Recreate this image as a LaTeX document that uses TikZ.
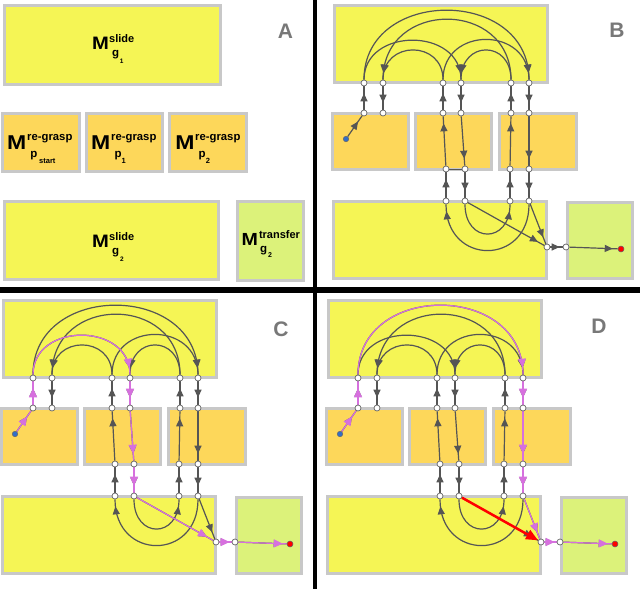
\documentclass[tikz,border=0pt]{standalone}
\usepackage{fontspec}
\setmainfont{Liberation Sans}
\usetikzlibrary{arrows.meta,decorations.markings}
\pgfdeclarelayer{fg}
\pgfsetlayers{main,fg}
\definecolor{yel}{RGB}{245,245,85}
\definecolor{org}{RGB}{253,215,90}
\definecolor{grn}{RGB}{220,242,122}
\definecolor{bord}{RGB}{200,200,200}
\definecolor{edc}{RGB}{85,85,85}
\definecolor{pnk}{RGB}{214,112,222}
\definecolor{lblgray}{RGB}{120,120,120}
\definecolor{bdot}{RGB}{50,110,200}
\tikzset{
  bx/.style={line width=3pt, draw=bord},
  st/.style={circle, draw=black!60, fill=white, line width=0.7pt, inner sep=0pt, minimum size=6pt},
  dotb/.style={circle, draw=black!60, fill=bdot, line width=0.5pt, inner sep=0pt, minimum size=5.5pt},
  dotr/.style={circle, draw=black!60, fill=red, line width=0.5pt, inner sep=0pt, minimum size=6pt},
  ge/.style={color=edc, line width=1.2pt},
  pe/.style={color=pnk, line width=1.2pt},
  ah/.style={postaction={decorate,decoration={markings,mark=at position -#1 with {\arrow{Triangle[length=8pt,width=7pt]}}}}},
  ah/.default=7pt,
  ahp/.style={postaction={decorate,decoration={markings,mark=at position -#1 with {\arrow{Triangle[length=9pt,width=8pt]}}}}},
  ahp/.default=7pt,
  lbl/.style={inner sep=0pt, anchor=base west},
  pl/.style={font=\fontsize{21}{21}\selectfont\bfseries, text=lblgray, inner sep=0pt},
}
\newcommand\pnl[3]{%
\begin{scope}[shift={(#2,#3)}]
\filldraw[bx, fill=yel] (3.5,300.5) rectangle (216.5,377.5);
\filldraw[bx, fill=org] (1.5,408.5) rectangle (77.5,464.5);
\filldraw[bx, fill=org] (84.5,408.5) rectangle (160.5,464.5);
\filldraw[bx, fill=org] (168.5,408.5) rectangle (245.5,464.5);
\filldraw[bx, fill=yel] (2.5,496.5) rectangle (215.5,573.5);
\filldraw[bx, fill=grn] (236.5,497.5) rectangle (301.5,573.5);
\begin{pgfonlayer}{fg}
\node[st] (#1T1) at (33,378) {};
\node[st] (#1T2) at (52,378) {};
\node[st] (#1T3) at (112,378) {};
\node[st] (#1T4) at (130,378) {};
\node[st] (#1T5) at (180,378) {};
\node[st] (#1T6) at (198,378) {};
\node[st] (#1S1) at (33,408) {};
\node[st] (#1S2) at (52,408) {};
\node[st] (#1S3) at (112,408) {};
\node[st] (#1S4) at (130,408) {};
\node[st] (#1S5) at (180,408) {};
\node[st] (#1S6) at (198,408) {};
\node[st] (#1U3) at (115,464) {};
\node[st] (#1U4) at (134,464) {};
\node[st] (#1U5) at (179,464) {};
\node[st] (#1U6) at (198,464) {};
\node[st] (#1V3) at (115,496) {};
\node[st] (#1V4) at (134,496) {};
\node[st] (#1V5) at (179,496) {};
\node[st] (#1V6) at (198,496) {};
\node[st] (#1F1) at (216,542) {};
\node[st] (#1F2) at (235,542) {};
\node[dotr] (#1R) at (290,544) {};
\node[dotb] (#1B) at (15,434) {};
\end{pgfonlayer}
\draw[ge,ah] (#1B) -- (#1S1);
\draw[ge,ah] (#1S1) -- (#1T1);
\draw[ge,ah] (#1T2) -- (#1S2);
\draw[ge,ah] (#1S3) -- (#1T3);
\draw[ge,ah] (#1T4) -- (#1S4);
\draw[ge,ah] (#1S5) -- (#1T5);
\draw[ge,ah] (#1T6) -- (#1S6);
\draw[ge,ah] (#1U3) -- (#1S3);
\draw[ge,ah] (#1S4) -- (#1U4);
\draw[ge,ah] (#1U5) -- (#1S5);
\draw[ge,ah] (#1S6) -- (#1U6);
\draw[ge,ah] (#1V3) -- (#1U3);
\draw[ge,ah] (#1U4) -- (#1V4);
\draw[ge,ah] (#1V5) -- (#1U5);
\draw[ge,ah] (#1U6) -- (#1V6);
\draw[ge,ah] (#1T1) .. controls +(0,-96) and +(0,-96) .. (#1T6);
\draw[ge,ah] (#1T5) .. controls +(0,-84) and +(0,-84) .. (#1T2);
\draw[ge,ah] (#1T1) .. controls +(0,-56) and +(0,-56) .. (#1T4);
\draw[ge,ah] (#1T3) .. controls +(0,-57) and +(0,-57) .. (#1T6);
\draw[ge,ah] (#1T3) .. controls +(0,-43) and +(0,-43) .. (#1T2);
\draw[ge,ah] (#1T5) .. controls +(0,-43) and +(0,-43) .. (#1T4);
\draw[ge,ah] (#1V4) .. controls +(0,43) and +(0,43) .. (#1V5);
\draw[ge,ah] (#1V6) .. controls +(0,65) and +(0,65) .. (#1V3);
\draw[ge,ah] (#1V4) -- (#1F1);
\draw[ge,ah] (#1V6) -- (#1F1);
\draw[ge,ah=3pt] (#1F1) -- (#1F2);
\draw[ge,ah=5pt] (#1F2) -- (#1R);
\end{scope}}
\begin{document}
\begin{tikzpicture}[x=1pt,y=-1pt]
\useasboundingbox (0,0) rectangle (640,589);
\fill[white] (0,0) rectangle (640,589);
% ---------- panel A ----------
\filldraw[bx, fill=yel] (4.5,5.5) rectangle (220.5,84.5);
\filldraw[bx, fill=org] (2.5,113.5) rectangle (79.5,171.5);
\filldraw[bx, fill=org] (86.5,113.5) rectangle (162.5,171.5);
\filldraw[bx, fill=org] (169.5,113.5) rectangle (246.5,171.5);
\filldraw[bx, fill=yel] (4.5,201.5) rectangle (218.5,279.5);
\filldraw[bx, fill=grn] (237.5,201.5) rectangle (303.5,280.5);
\begin{scope}[every node/.style={lbl}]
\node[font=\fontsize{18}{18}\selectfont\bfseries] (a1M) at (92,49.5) {\scalebox{1.12}[1]{M}};
\node[font=\fontsize{11}{11}\selectfont\bfseries] (a1S) at (109,42.5) {slide};
\node[font=\fontsize{11.5}{11}\selectfont\bfseries] (a1G) at (111.8,56.3) {g};
\node[font=\fontsize{6.5}{6}\selectfont\bfseries] (a1N) at (119.6,63) {1};
\node[font=\fontsize{18}{18}\selectfont\bfseries] (a2M) at (92,247.8) {\scalebox{1.12}[1]{M}};
\node[font=\fontsize{11}{11}\selectfont\bfseries] (a2S) at (109,240.8) {slide};
\node[font=\fontsize{11.5}{11}\selectfont\bfseries] (a2G) at (111.8,254.6) {g};
\node[font=\fontsize{6.5}{6}\selectfont\bfseries] (a2N) at (120,261.3) {2};
\node[font=\fontsize{20}{20}\selectfont\bfseries] (a3M) at (6.8,149.5) {\scalebox{1.15}[1]{M}};
\node[font=\fontsize{11.3}{11}\selectfont\bfseries] (a3S) at (27,140.5) {re-grasp};
\node[font=\fontsize{11.5}{11}\selectfont\bfseries] (a3G) at (30.3,157.8) {p};
\node[font=\fontsize{7.5}{7.5}\selectfont\bfseries] (a3N) at (39,163.3) {start};
\node[font=\fontsize{20}{20}\selectfont\bfseries] (a4M) at (90.8,149.5) {\scalebox{1.15}[1]{M}};
\node[font=\fontsize{11.3}{11}\selectfont\bfseries] (a4S) at (111,140.5) {re-grasp};
\node[font=\fontsize{11.5}{11}\selectfont\bfseries] (a4G) at (114.3,157.8) {p};
\node[font=\fontsize{7.5}{7.5}\selectfont\bfseries] (a4N) at (121.4,163) {1};
\node[font=\fontsize{20}{20}\selectfont\bfseries] (a5M) at (175.2,149.5) {\scalebox{1.15}[1]{M}};
\node[font=\fontsize{11.3}{11}\selectfont\bfseries] (a5S) at (195,140.5) {re-grasp};
\node[font=\fontsize{11.5}{11}\selectfont\bfseries] (a5G) at (198.3,157.8) {p};
\node[font=\fontsize{7.5}{7.5}\selectfont\bfseries] (a5N) at (205.6,163) {2};
\node[font=\fontsize{17.5}{17.5}\selectfont\bfseries] (a6M) at (241.3,245.7) {\scalebox{1.12}[1]{M}};
\node[font=\fontsize{11}{11}\selectfont\bfseries] (a6S) at (258.8,238.3) {transfer};
\node[font=\fontsize{11.5}{11}\selectfont\bfseries] (a6G) at (259.8,252.5) {g};
\node[font=\fontsize{7}{7}\selectfont\bfseries] (a6N) at (267.8,257.8) {2};
\end{scope}
% ---------- panels B, C, D ----------
\pnl{b}{331}{-295}
\draw[ge, line width=0.8pt] (bU3) -- (bU4);
\pnl{c}{0}{0}
\draw[pe,ahp] (cB) -- (cS1);
\draw[pe,ahp] (cS1) -- (cT1);
\draw[pe,ahp] (cT1) .. controls +(0,-56) and +(0,-56) .. (cT4);
\draw[pe,ahp] (cT4) -- (cS4);
\draw[pe,ahp] (cS4) -- (cU4);
\draw[pe,ahp] (cU4) -- (cV4);
\draw[pe,ahp] (cV4) -- (cF1);
\draw[pe,ahp=2pt] (cF1) -- (cF2);
\draw[pe,ahp=4pt] (cF2) -- (cR);
\pnl{d}{325}{0}
\draw[pe,ahp] (dB) -- (dS1);
\draw[pe,ahp] (dS1) -- (dT1);
\draw[pe,ahp] (dT1) .. controls +(0,-96) and +(0,-96) .. (dT6);
\draw[pe,ahp] (dT6) -- (dS6);
\draw[pe,ahp] (dS6) -- (dU6);
\draw[pe,ahp] (dU6) -- (dV6);
\draw[pe,ahp] (dV6) -- (dF1);
\draw[pe,ahp=2pt] (dF1) -- (dF2);
\draw[pe,ahp=4pt] (dF2) -- (dR);
\draw[red, line width=2.5pt, -{Triangle[length=12pt,width=10pt]}] (dV4) -- (dF1);
% ---------- panel letters ----------
\node[pl] (la) at (285.5,31.5) {A};
\node[pl] (lb) at (617,30) {B};
\node[pl] (lc) at (281,329.5) {C};
\node[pl] (ld) at (599,326) {D};
% ---------- dividers ----------
\fill[black] (313,0) rectangle (317,589);
\fill[black] (0,287) rectangle (640,293);
\end{tikzpicture}
\end{document}
